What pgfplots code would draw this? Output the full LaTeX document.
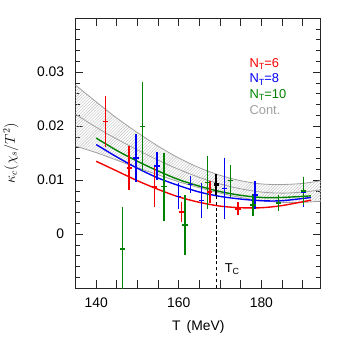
\documentclass[border=0pt]{standalone}
\usepackage{fontspec}
\setmainfont{Liberation Sans}
\usepackage{pgfplots}
\usepackage{pgfplotstable}
\pgfplotsset{compat=1.18}
\usetikzlibrary{patterns}
\definecolor{nred}{RGB}{245,0,0}
\definecolor{nblue}{RGB}{0,0,245}
\definecolor{ngreen}{RGB}{0,130,0}
\definecolor{cgray}{RGB}{160,160,160}

\pgfplotstableread{
T v e
142.2 0.0209 0.0042
148.0 0.0123 0.0036
154.1 0.0087 0.0032
160.6 0.0041 0.0013
167.5 0.0078 0.0016
174.3 0.0047 0.0007
}\nsix
\pgfplotstableread{
T v e
149.6 0.0141 0.0039
154.7 0.0126 0.0021
159.9 0.0070 0.0019
162.8 0.0092 0.0010
165.5 0.0062 0.0027
171.1 0.0085 0.0052
178.5 0.0073 0.0021
190.2 0.0077 0.0021
}\neight
\pgfplotstableread{
T v e
146.4 -0.0027 0.0073
151.2 0.0199 0.0077
156.4 0.0088 0.0058
161.5 0.0017 0.0051
166.9 0.0096 0.0044
172.5 0.0099 0.0025
178.0 0.0054 0.0015
184.1 0.0058 0.0010
190.2 0.0080 0.0021
}\nten
\pgfplotstableread{
T v e
169.1 0.0092 0.0015
}\tcpt

\newcommand{\sub}[1]{\raisebox{-0.35ex}{\fontsize{9}{9}\selectfont #1}}
\pgfplotsset{
  errpts/.style 2 args={color=#1, draw=#1, line width=#2, only marks, mark=-, mark size=2.7pt,
    mark options={color=#1, draw=#1, line width=#2},
    error bars/.cd, y dir=both, y explicit, error mark=-,
    error mark options={color=#1, draw=#1, mark size=2.7pt, line width=#2},
    error bar style={color=#1, draw=#1, line width=#2}},
}

\begin{document}
\begin{tikzpicture}
\begin{axis}[
  at={(73pt,47pt)}, anchor=south west,
  scale only axis, width=247.7pt, height=272.7pt,
  xmin=135, xmax=194.4, ymin=-0.01, ymax=0.04,
  scaled y ticks=false,
  xtick={140,145,150,155,160,165,170,175,180,185,190}, xticklabels={140,,,,160,,,,180,,},
  ytick={0,0.01,0.02,0.03}, yticklabels={0,0.01,0.02,0.03},
  minor ytick={-0.008,-0.006,-0.004,-0.002,0.002,0.004,0.006,0.008,0.012,0.014,0.016,0.018,0.022,0.024,0.026,0.028,0.032,0.034,0.036,0.038},
  major tick length=8pt, minor tick length=5pt,
  tick style={black!85, line width=0.8pt},
  axis line style={black!85, line width=0.9pt},
  tick label style={font=\fontsize{14}{16}\selectfont},
  xticklabel style={yshift=-6pt},
  yticklabel style={xshift=-8pt},
  xlabel={T \,(MeV)},
  ylabel={$\kappa_c(\chi_s/T^2)$},
  label style={font=\fontsize{14}{16}\selectfont},
  xlabel style={yshift=-6pt},
  ylabel style={yshift=12pt},
  clip=true,
]
% continuum band
\addplot[pattern=north east lines, pattern color=black!25, draw=none] coordinates {
(135,0.0276) (140,0.0245) (145,0.0215) (150,0.0188) (155,0.0163) (160,0.0141)
(165,0.0123) (170,0.0109) (175,0.0099) (180,0.0093) (185,0.0092) (190,0.0094) (194.4,0.0099)
(194.4,0.0061) (190,0.0059) (185,0.0059) (180,0.0062) (175,0.0068) (170,0.0076) (165,0.0086)
(160,0.0097) (155,0.0110) (150,0.0123) (145,0.0137) (140,0.0151) (135,0.0163)} -- cycle;
\addplot[cgray, line width=0.8pt, smooth] coordinates {
(135,0.0276) (140,0.0245) (145,0.0215) (150,0.0188) (155,0.0163) (160,0.0141)
(165,0.0123) (170,0.0109) (175,0.0099) (180,0.0093) (185,0.0092) (190,0.0094) (194.4,0.0099)};
\addplot[cgray, line width=0.8pt, smooth] coordinates {
(135,0.0163) (140,0.0151) (145,0.0137) (150,0.0123) (155,0.0110) (160,0.0097)
(165,0.0086) (170,0.0076) (175,0.0068) (180,0.0062) (185,0.0059) (190,0.0059) (194.4,0.0061)};
\addplot[cgray, line width=0.8pt, smooth] coordinates {
(135,0.0222) (140,0.0198) (145,0.0176) (150,0.0156) (155,0.0137) (160,0.0120)
(165,0.0105) (170,0.0093) (175,0.0084) (180,0.0078) (185,0.0076) (190,0.0078) (194.4,0.0082)};
% fit curves
\addplot[nred, line width=1.4pt, smooth] coordinates {
(140,0.0135) (145,0.0117) (150,0.0099) (155,0.0083) (160,0.0069) (165,0.0059)
(170,0.0052) (175,0.0049) (180,0.0049) (185,0.0053) (192,0.0063)};
\addplot[nblue, line width=1.4pt, smooth] coordinates {
(140,0.0166) (145,0.0143) (150,0.0122) (155,0.0104) (160,0.0090) (165,0.0078)
(170,0.0070) (175,0.0065) (180,0.0062) (185,0.0062) (192,0.0068)};
\addplot[ngreen, line width=1.4pt, smooth] coordinates {
(140,0.0178) (145,0.0155) (150,0.0135) (155,0.0117) (160,0.0101) (165,0.0089)
(170,0.0079) (175,0.0072) (180,0.0068) (185,0.0068) (192,0.0071)};
% Tc line
\addplot[black, line width=1.1pt, dash pattern=on 3.5pt off 2.5pt] coordinates {(169.1,-0.01) (169.1,0.0077)};
% data
\addplot[errpts={nred}{1.5pt}] table[x=T,y=v,y error=e] {\nsix};
\addplot[errpts={nblue}{1.5pt}] table[x=T,y=v,y error=e] {\neight};
\addplot[errpts={ngreen}{1.5pt}] table[x=T,y=v,y error=e] {\nten};
\addplot[errpts={black}{2.2pt}] table[x=T,y=v,y error=e] {\tcpt};
% labels
\node[anchor=base west, font=\fontsize{13}{15}\selectfont] at (axis cs:170.3,-0.0071) {T\sub{C}};
\node[anchor=base west, text=nred, font=\fontsize{13}{15}\selectfont] at (axis cs:176.3,0.0309) {N\sub{T}=6};
\node[anchor=base west, text=nblue, font=\fontsize{13}{15}\selectfont] at (axis cs:176.3,0.0280) {N\sub{T}=8};
\node[anchor=base west, text=ngreen, font=\fontsize{13}{15}\selectfont] at (axis cs:176.3,0.0251) {N\sub{T}=10};
\node[anchor=base west, text=cgray, font=\fontsize{13}{15}\selectfont] at (axis cs:176.3,0.0222) {Cont.};
\end{axis}
\path[use as bounding box] (0,0) rectangle (338pt,338pt);
\end{tikzpicture}
\end{document}
